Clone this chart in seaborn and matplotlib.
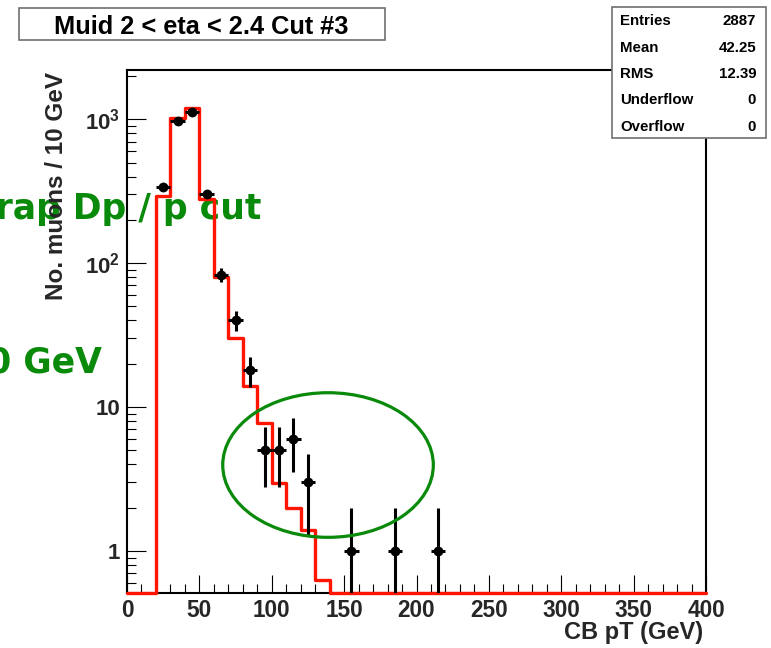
import numpy as np
import pandas as pd
import matplotlib
matplotlib.use("Agg")
import matplotlib.pyplot as plt
import seaborn as sns
from matplotlib.patches import Ellipse, Rectangle
from matplotlib.ticker import FixedLocator, FixedFormatter, LogLocator, NullFormatter, MultipleLocator

# Measured muons per 10 GeV bin (black points, Poisson errors)
data_pt = [25, 35, 45, 55, 65, 75, 85, 95, 105, 115, 125, 155, 185, 215]
data_counts = [337, 968, 1124, 303, 83, 40, 18, 5, 5, 6, 3, 1, 1, 1]

# Reference histogram (red), lower bin edges and contents
mc_low_edges = [20, 30, 40, 50, 60, 70, 80, 90, 100, 110, 120, 130]
mc_values = [295, 1016, 1198, 277, 80, 30, 14, 7.8, 2.95, 1.98, 1.4, 0.63]

x_ticks = [0, 50, 100, 150, 200, 250, 300, 350, 400]
y_tick_values = [1, 10, 100, 1000]
y_tick_labels = ["1", "10", r"$10^{2}$", r"$10^{3}$"]

stats_names = ["Entries", "Mean", "RMS", "Underflow", "Overflow"]
stats_values = ["2887", "42.25", "12.39", "0", "0"]

title_text = "Muid 2 < eta < 2.4 Cut #3"
note_lines = ["Trap Dp / p cut", "pT > 10 GeV"]

sns.set_theme(style="ticks")
plt.rcParams["font.family"] = ["Liberation Sans", "DejaVu Sans"]
plt.rcParams["font.weight"] = "bold"
plt.rcParams["mathtext.fontset"] = "custom"
plt.rcParams["mathtext.rm"] = "Liberation Sans:bold"
plt.rcParams["mathtext.bf"] = "Liberation Sans:bold"
plt.rcParams["mathtext.it"] = "Liberation Sans:bold"
plt.rcParams["mathtext.default"] = "rm"

W, H = 771, 648
fig = plt.figure(figsize=(W / 100, H / 100), dpi=100)
fig.patch.set_facecolor("white")

# axes frame in pixel terms
x0, x1, y0, y1 = 127, 706, 70, 593
ax = fig.add_axes([x0 / W, 1 - y1 / H, (x1 - x0) / W, (y1 - y0) / H])
ax.patch.set_visible(False)

y_min, y_max = 0.511, 2198
ax.set_yscale("log")

# red histogram over the full 0-400 range (empty bins rest on the frame)
edges = np.arange(0, 410, 10)
centers = edges[:-1] + 5
mc_full = np.zeros(len(centers))
for lo, v in zip(mc_low_edges, mc_values):
    mc_full[int(lo // 10)] = v
mc_df = pd.DataFrame({"pt": centers, "w": np.maximum(mc_full, y_min)})
n_before = len(ax.lines)
sns.histplot(data=mc_df, x="pt", weights="w", binwidth=10, binrange=(0, 400),
             element="step", fill=False, color="#ff1500", linewidth=2.4, ax=ax, zorder=3)
for ln in ax.lines[n_before:]:
    ln.set_clip_on(False)
for p in ax.patches:
    p.set_clip_on(False)

# data points with sqrt(N) errors
counts = np.array(data_counts, dtype=float)
ax.errorbar(data_pt, counts, xerr=5, yerr=np.sqrt(counts), fmt="none",
            ecolor="black", elinewidth=2.2, capsize=0, zorder=4)
pts_df = pd.DataFrame({"pt": data_pt, "n": data_counts})
sns.scatterplot(data=pts_df, x="pt", y="n", color="black", s=50, edgecolor="black",
                linewidth=0, ax=ax, zorder=5)

ax.set_xlim(0, 400)
ax.set_ylim(y_min, y_max)

# axis styling
for s in ax.spines.values():
    s.set_linewidth(1.5)
    s.set_color("black")
ax.xaxis.set_major_locator(FixedLocator(x_ticks))
ax.xaxis.set_minor_locator(MultipleLocator(10))
ax.yaxis.set_major_locator(FixedLocator(y_tick_values))
ax.yaxis.set_major_formatter(FixedFormatter(y_tick_labels))
ax.yaxis.set_minor_locator(LogLocator(base=10, subs=np.arange(2, 10)))
ax.yaxis.set_minor_formatter(NullFormatter())
ax.tick_params(axis="both", which="both", direction="in", color="black", width=0.8,
               top=False, right=False)
ax.tick_params(axis="y", which="major", length=13.5, pad=5, labelsize=16)
ax.tick_params(axis="y", which="minor", length=6.8)
ax.tick_params(axis="x", which="major", length=13, pad=4.5, labelsize=16.3)
ax.tick_params(axis="x", which="minor", length=6.5)
for lab in ax.get_xticklabels() + ax.get_yticklabels():
    lab.set_fontweight("bold")

ax.set_xlabel("CB pT (GeV)", loc="right", fontsize=17, fontweight="bold")
ax.xaxis.set_label_coords(1 - 3 / (x1 - x0), (y1 - 621) / (y1 - y0))
ax.set_ylabel("No. muons / 10 GeV", loc="top", fontsize=17.5, fontweight="bold")
ax.yaxis.set_label_coords((68 - x0) / (x1 - x0), 1 - 2 / (y1 - y0))

# highlight ellipse around the tail
ax.add_patch(Ellipse((0.3472, 0.2447), 0.3637, 0.2765, transform=ax.transAxes,
                     fill=False, edgecolor="#0a8a0a", linewidth=2.3, zorder=6,
                     clip_on=False))

# green annotations, drawn beneath the plot contents
green = "#0a8a0a"
fig.text(261 / W, 1 - 218.5 / H, note_lines[0], ha="right", va="baseline",
         fontsize=24.9, fontweight="bold", family="DejaVu Sans", color=green, zorder=-1)
fig.text(102 / W, 1 - 372.5 / H, note_lines[1], ha="right", va="baseline",
         fontsize=24.9, fontweight="bold", family="DejaVu Sans", color=green, zorder=-1)

# title box
fig.add_artist(Rectangle((19 / W, 1 - 40 / H), (385 - 19) / W, (40 - 8) / H,
                         transform=fig.transFigure, facecolor="white",
                         edgecolor="#707070", linewidth=1.2, zorder=8))
fig.text(201 / W, 1 - 26.5 / H, title_text, ha="center", va="center",
         fontsize=18.3, fontweight="bold", color="black", zorder=9)

# statistics box
fig.add_artist(Rectangle((611.5 / W, 1 - 137.5 / H), (765.5 - 611.5) / W, (137.5 - 6.5) / H,
                         transform=fig.transFigure, facecolor="white",
                         edgecolor="#707070", linewidth=1.2, zorder=8))
row_y = [21, 47.5, 74, 100.5, 127]
for name, val, ry in zip(stats_names, stats_values, row_y):
    fig.text(620 / W, 1 - ry / H, name, ha="left", va="center", fontsize=10.8,
             fontweight="bold", color="black", zorder=9)
    fig.text(756 / W, 1 - ry / H, val, ha="right", va="center", fontsize=10.8,
             fontweight="bold", color="black", zorder=9)

fig.savefig("out.png", dpi=100, facecolor="white")
